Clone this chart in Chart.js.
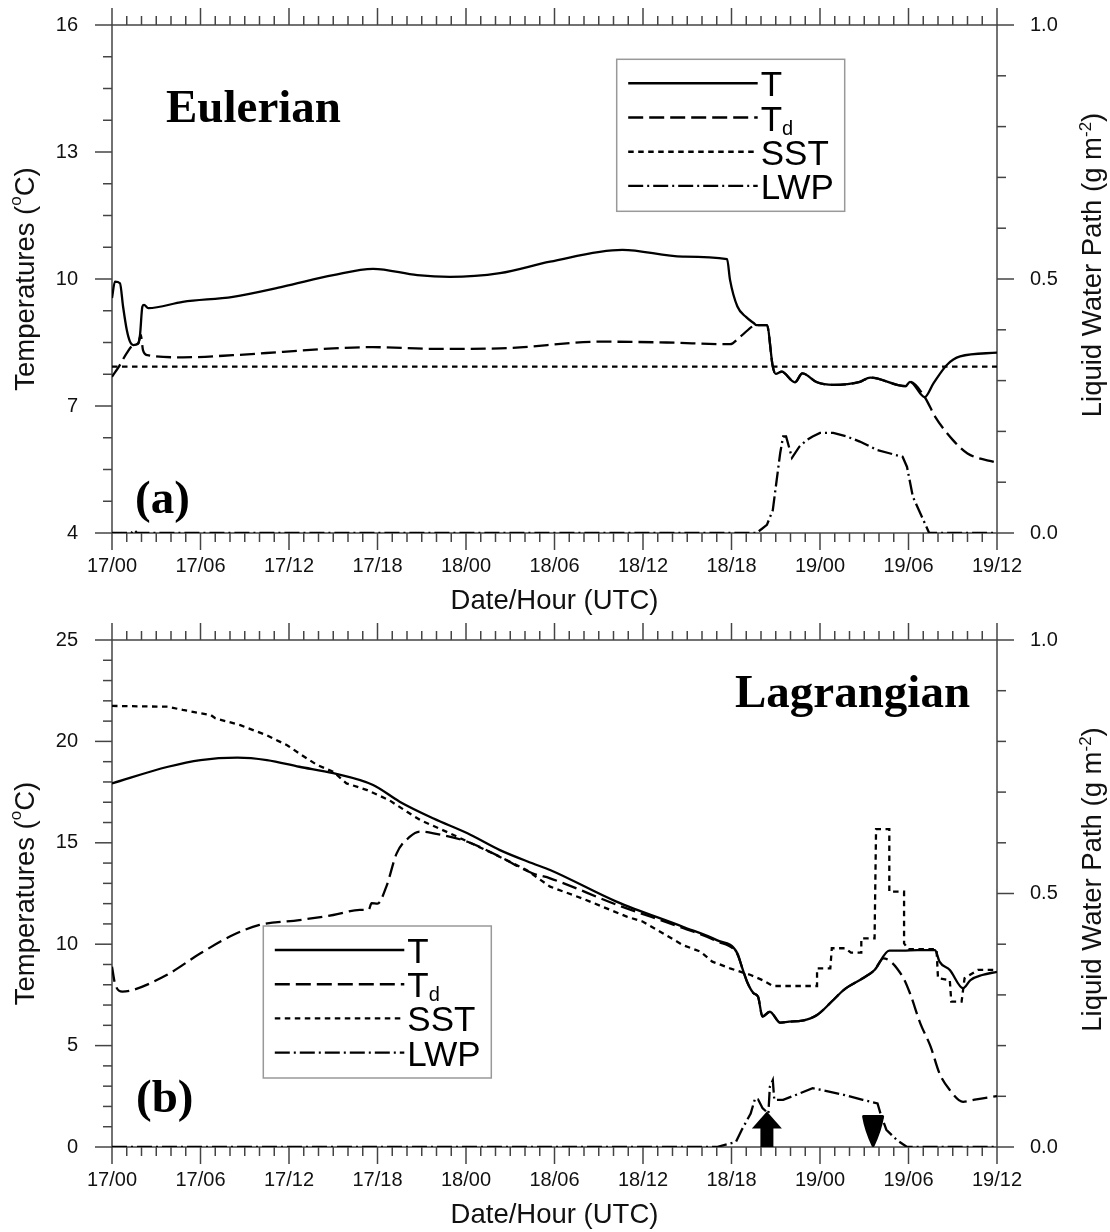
<!DOCTYPE html>
<html>
<head>
<meta charset="utf-8">
<title>Eulerian / Lagrangian time series</title>
<script src="https://cdn.jsdelivr.net/npm/chart.js@4.4.1/dist/chart.umd.min.js"></script>
<style>
  html, body { margin: 0; padding: 0; background: #fff; }
  #wrap { width: 1110px; height: 1232px; }
  canvas { display: block; }
</style>
</head>
<body>
<div id="wrap">
  <canvas id="chartA" width="1110" height="616"></canvas>
  <canvas id="chartB" width="1110" height="616"></canvas>
</div>
<script>
const dateLabels = ["17/00","17/06","17/12","17/18","18/00","18/06","18/12","18/18","19/00","19/06","19/12"];

// (a) Eulerian - hours since 17/00 UTC
const hoursTA = [0, 0.2, 0.54, 0.75, 1.0, 1.22, 1.44, 1.78, 1.9, 2.06, 2.17, 2.46, 4.8, 8.2, 11.6, 15.0, 17.7, 20.7, 22.9, 26.3, 29.7, 34.6, 38.7, 41.7, 41.9, 42.4, 43.0, 43.5, 43.7, 44.4, 44.8, 45.0, 45.4, 46.3, 46.8, 47.8, 48.9, 50.7, 51.4, 53.8, 54.1, 55.1, 55.7, 56.6, 57.5, 60];
const tempA   = [9.55, 9.94, 9.9, 9.35, 8.8, 8.52, 8.44, 8.48, 8.68, 9.35, 9.39, 9.31, 9.46, 9.58, 9.82, 10.09, 10.24, 10.09, 10.05, 10.14, 10.41, 10.69, 10.53, 10.47, 9.98, 9.35, 9.1, 8.96, 8.91, 8.91, 7.93, 7.76, 7.81, 7.56, 7.77, 7.56, 7.5, 7.57, 7.67, 7.47, 7.57, 7.21, 7.54, 7.97, 8.17, 8.26];
const hoursTdA = [0, 0.5, 1.0, 1.44, 1.78, 1.95, 2.1, 2.4, 4.8, 8.2, 11.6, 15.0, 17.7, 21.8, 26.3, 33.1, 37.6, 41.9, 42.6, 43.7, 44.4, 44.8, 45.0, 45.4, 46.3, 46.8, 47.8, 48.9, 50.7, 51.4, 53.8, 54.1, 55.1, 55.8, 57.0, 58.0, 60];
const dewA     = [7.69, 7.95, 8.25, 8.44, 8.48, 8.68, 8.32, 8.2, 8.15, 8.2, 8.28, 8.36, 8.39, 8.35, 8.36, 8.52, 8.5, 8.46, 8.64, 8.91, 8.91, 7.93, 7.76, 7.81, 7.56, 7.77, 7.56, 7.5, 7.57, 7.67, 7.47, 7.57, 7.21, 6.75, 6.2, 5.88, 5.66];
const hoursSstA = [0, 60];
const sstA      = [7.93, 7.93];
const hoursLwpA = [0, 1.3, 1.5, 1.7, 43.7, 44.4, 44.8, 45.0, 45.3, 45.5, 45.7, 46.1, 46.6, 47.1, 47.5, 48.0, 48.9, 49.8, 50.7, 51.9, 52.7, 53.6, 53.9, 54.3, 55.0, 55.4, 60];
const lwpA      = [0, 0, 0.006, 0, 0, 0.016, 0.045, 0.09, 0.157, 0.19, 0.19, 0.148, 0.17, 0.183, 0.19, 0.197, 0.197, 0.19, 0.18, 0.163, 0.157, 0.15, 0.13, 0.071, 0.026, 0, 0];

// (b) Lagrangian
const hoursTB = [0, 3.8, 6.0, 8.5, 10.5, 12.7, 15.0, 17.7, 19.5, 21.8, 24.1, 26.3, 28.5, 29.7, 34.2, 38.7, 41.0, 42.4, 42.7, 43.1, 43.5, 43.8, 44.1, 44.6, 45.3, 45.9, 46.8, 47.8, 48.9, 49.6, 50.9, 51.7, 52.7, 53.6, 54.6, 55.8, 56.1, 56.8, 57.7, 58.2, 59.0, 60];
const tempB   = [17.93, 18.75, 19.08, 19.2, 19.08, 18.75, 18.43, 17.85, 17.03, 16.2, 15.47, 14.64, 13.99, 13.66, 12.1, 10.86, 10.2, 9.55, 8.89, 8.07, 7.58, 7.41, 6.43, 6.67, 6.13, 6.18, 6.23, 6.51, 7.25, 7.74, 8.32, 8.73, 9.68, 9.68, 9.71, 9.71, 9.14, 8.73, 7.83, 8.23, 8.48, 8.64];
const hoursTdB = [0, 0.2, 0.7, 1.4, 3.7, 6.0, 8.2, 10.0, 12.7, 15.0, 16.8, 17.4, 17.6, 18.0, 18.6, 19.3, 20.2, 20.9, 21.8, 24.1, 26.3, 28.5, 29.7, 34.2, 38.7, 41.0, 42.4, 42.7, 43.1, 43.5, 43.8, 44.1, 44.6, 45.3, 45.9, 46.8, 47.8, 48.9, 49.6, 50.9, 51.7, 52.3, 53.6, 54.1, 54.8, 55.5, 56.1, 56.8, 57.7, 58.6, 60];
const dewB     = [8.89, 8.07, 7.66, 7.74, 8.48, 9.55, 10.45, 10.95, 11.19, 11.44, 11.69, 11.7, 12.02, 12.0, 12.84, 14.48, 15.3, 15.55, 15.47, 15.05, 14.31, 13.5, 13.25, 11.95, 10.8, 10.15, 9.5, 8.89, 8.07, 7.58, 7.41, 6.43, 6.67, 6.13, 6.18, 6.23, 6.51, 7.25, 7.74, 8.32, 8.73, 9.3, 8.4, 7.58, 6.1, 4.95, 3.63, 2.81, 2.23, 2.35, 2.51];
const hoursSstB = [0, 3.8, 4.8, 6.7, 7.0, 8.7, 10.5, 11.9, 12.7, 13.9, 15.0, 15.9, 17.3, 18.8, 20.0, 20.9, 22.9, 25.8, 28.1, 29.7, 31.9, 34.9, 36.0, 38.7, 39.9, 40.7, 41.9, 43.3, 44.1, 44.8, 47.8, 47.8, 48.7, 48.8, 49.7, 50.1, 50.8, 50.8, 51.7, 51.8, 52.7, 52.7, 53.7, 53.7, 54.0, 55.9, 56.0, 56.8, 56.9, 57.6, 57.8, 58.7, 60];
const sstB      = [21.75, 21.71, 21.55, 21.3, 21.14, 20.8, 20.3, 19.8, 19.4, 18.84, 18.5, 17.93, 17.6, 17.1, 16.53, 16.12, 15.47, 14.48, 13.66, 12.84, 12.25, 11.36, 11.11, 9.96, 9.63, 9.14, 8.81, 8.48, 8.23, 7.94, 7.94, 8.81, 8.81, 9.8, 9.8, 9.58, 9.58, 10.29, 10.29, 15.67, 15.67, 12.59, 12.59, 10.04, 9.75, 9.75, 8.32, 8.23, 7.17, 7.17, 8.32, 8.73, 8.73];
const hoursLwpB = [0, 41.0, 42.3, 42.7, 43.3, 43.6, 43.8, 44.1, 44.5, 44.6, 44.8, 44.9, 45.5, 46.4, 47.5, 48.2, 49.6, 50.9, 51.9, 52.1, 52.5, 53.2, 53.9, 60];
const lwpB      = [0, 0, 0.01, 0.034, 0.066, 0.096, 0.094, 0.077, 0.066, 0.119, 0.132, 0.093, 0.093, 0.103, 0.116, 0.112, 0.103, 0.093, 0.086, 0.066, 0.034, 0.014, 0, 0];

// arrows in panel (b): cloud onset / dissipation (hour, LWP of the arrow top)
const arrowHoursB = [44.4, 51.6];
const arrowTopsB  = [0.07, 0.063];

const SANS = "'Liberation Sans', Arial, Helvetica, sans-serif";
const SERIF = "'Liberation Serif', 'Times New Roman', serif";
Chart.defaults.font.family = SANS;
Chart.defaults.color = '#111';

const dashes = { T: [], Td: [15, 6], SST: [5.5, 4.5], LWP: [15, 4, 2, 4] };

function series(label, hours, vals, axis, smooth){
  return {
    label: label,
    data: hours.map((h, i) => ({x: h, y: vals[i]})),
    yAxisID: axis,
    borderColor: '#000',
    borderWidth: 2.3,
    borderDash: dashes[label],
    pointRadius: 0,
    fill: false,
    tension: 0,
    cubicInterpolationMode: smooth ? 'monotone' : 'default'
  };
}

function line(ctx, x1, y1, x2, y2){
  ctx.beginPath(); ctx.moveTo(x1, y1); ctx.lineTo(x2, y2); ctx.stroke();
}

// text with superscript / subscript pieces: [text, size, rise]
function drawRich(ctx, parts, x, y, rot, center){
  ctx.save();
  ctx.translate(x, y);
  ctx.rotate(rot);
  ctx.textAlign = 'left';
  ctx.textBaseline = 'alphabetic';
  let total = 0;
  parts.forEach(p => { ctx.font = p[1] + 'px ' + SANS; total += ctx.measureText(p[0]).width; });
  let cx = center ? -total / 2 : 0;
  parts.forEach(p => {
    ctx.font = p[1] + 'px ' + SANS;
    ctx.fillText(p[0], cx, -p[2]);
    cx += ctx.measureText(p[0]).width;
  });
  ctx.restore();
}

// y axes: fixed width, and no extra label padding pushed into the layout
function fixWidth(w){
  return s => { s.width = w; s.paddingTop = 0; s.paddingBottom = 0; };
}

const framePlugin = {
  id: 'frame',
  beforeDatasetsDraw(chart, args, o){
    const {ctx, chartArea: a, scales} = chart;
    ctx.save();
    ctx.strokeStyle = '#444';
    ctx.lineWidth = 1.5;
    ctx.strokeRect(a.left, a.top, a.right - a.left, a.bottom - a.top);
    // hourly ticks top and bottom
    for(let h = 0; h <= 60; h++){
      const px = scales.x.getPixelForValue(h);
      const len = h % 6 === 0 ? 17 : 9;
      line(ctx, px, a.bottom, px, a.bottom + len);
      line(ctx, px, a.top, px, a.top - len);
    }
    // temperature ticks
    for(let i = 0; i <= o.leftCount; i++){
      const py = scales.y.getPixelForValue(o.leftMin + i * o.leftStep);
      const len = i % o.leftEvery === 0 ? 17 : 9;
      line(ctx, a.left, py, a.left - len, py);
    }
    // LWP ticks
    for(let i = 0; i <= 10; i++){
      const py = scales.y2.getPixelForValue(i / 10);
      const len = i % 5 === 0 ? 17 : 9;
      line(ctx, a.right, py, a.right + len, py);
    }
    ctx.restore();
  },
  afterDraw(chart, args, o){
    const {ctx, chartArea: a, scales} = chart;
    const midY = (a.top + a.bottom) / 2;
    ctx.save();
    ctx.fillStyle = '#111';
    drawRich(ctx, [['Temperatures (', 27.5, 0], ['o', 17, 13], ['C)', 27.5, 0]], 33.5, midY, -Math.PI / 2, true);
    drawRich(ctx, [['Liquid Water Path (g m', 27.5, 0], ['-2', 17, 10], [')', 27.5, 0]], 1101, midY - 14, -Math.PI / 2, true);
    drawRich(ctx, [['Date/Hour (UTC)', 27.5, 0]], (a.left + a.right) / 2, a.bottom + 76, 0, true);

    // panel annotations
    ctx.fillStyle = '#000';
    ctx.font = 'bold 47px ' + SERIF;
    ctx.textAlign = 'left';
    ctx.textBaseline = 'alphabetic';
    o.texts.forEach(t => ctx.fillText(t[0], t[1], t[2]));

    // legend box
    const lx = a.left + o.legend[0], ly = a.top + o.legend[1];
    ctx.strokeStyle = '#999';
    ctx.lineWidth = 1.5;
    ctx.strokeRect(lx, ly, 228, 152);
    const names = ['T', 'Td', 'SST', 'LWP'];
    names.forEach((n, i) => {
      const ry = ly + 24 + i * 34.2;
      ctx.strokeStyle = '#000';
      ctx.lineWidth = 2.4;
      ctx.setLineDash(dashes[n]);
      line(ctx, lx + 11.5, ry, lx + 141, ry);
      ctx.setLineDash([]);
      ctx.fillStyle = '#000';
      if(n === 'Td'){
        drawRich(ctx, [['T', 35, 0], ['d', 20, -4]], lx + 144, ry + 13, 0, false);
      } else {
        drawRich(ctx, [[n, 35, 0]], lx + 144, ry + 13, 0, false);
      }
    });

    // arrows
    if(o.arrows){
      const base = scales.y2.getPixelForValue(0);
      const up = scales.x.getPixelForValue(arrowHoursB[0]);
      const tip = scales.y2.getPixelForValue(arrowTopsB[0]);
      ctx.fillStyle = '#000';
      ctx.beginPath();
      ctx.moveTo(up, tip);
      ctx.lineTo(up + 15, tip + 17);
      ctx.lineTo(up - 15, tip + 17);
      ctx.closePath();
      ctx.fill();
      ctx.fillRect(up - 6.5, tip + 16, 13, base - tip - 16);

      const dn = scales.x.getPixelForValue(arrowHoursB[1]);
      const top = scales.y2.getPixelForValue(arrowTopsB[1]);
      ctx.lineJoin = 'round';
      ctx.lineWidth = 3;
      ctx.strokeStyle = '#000';
      ctx.beginPath();
      ctx.moveTo(dn - 9.5, top + 1.5);
      ctx.lineTo(dn + 9.5, top + 1.5);
      ctx.quadraticCurveTo(dn + 7, (top + base) / 2, dn, base - 1.5);
      ctx.quadraticCurveTo(dn - 7, (top + base) / 2, dn - 9.5, top + 1.5);
      ctx.closePath();
      ctx.fill();
      ctx.stroke();
    }
    ctx.restore();
  }
};

function buildPanel(id, p){
  const ctx = document.getElementById(id).getContext('2d');
  return new Chart(ctx, {
    type: 'line',
    data: {
      datasets: [
        series('T', p.hoursT, p.temp, 'y', true),
        series('Td', p.hoursTd, p.dew, 'y', true),
        series('SST', p.hoursSst, p.sst, 'y', false),
        series('LWP', p.hoursLwp, p.lwp, 'y2', false)
      ]
    },
    plugins: [framePlugin],
    options: {
      responsive: false,
      animation: false,
      layout: { padding: { top: p.top, left: 0, right: 0, bottom: 0 } },
      plugins: {
        legend: { display: false },
        tooltip: { enabled: false },
        frame: p.frame
      },
      scales: {
        x: {
          type: 'linear', position: 'bottom', min: 0, max: 60,
          grid: { display: false, drawTicks: false },
          border: { display: false },
          ticks: { stepSize: 6, autoSkip: false, maxRotation: 0, padding: 21,
                   font: { size: 20 }, callback: v => dateLabels[Math.round(v / 6)] },
          afterFit: s => { s.height = p.bottomH; }
        },
        y: {
          type: 'linear', position: 'left', min: p.yMin, max: p.yMax,
          grid: { display: false, drawTicks: false },
          border: { display: false },
          ticks: { stepSize: p.yStep, padding: 34, font: { size: 20 } },
          afterFit: fixWidth(112)
        },
        y2: {
          type: 'linear', position: 'right', min: 0, max: 1,
          grid: { display: false, drawTicks: false },
          border: { display: false },
          ticks: { stepSize: 0.5, padding: 33, font: { size: 20 }, callback: v => v.toFixed(1) },
          afterFit: fixWidth(113)
        }
      }
    }
  });
}

buildPanel('chartA', {
  hoursT: hoursTA, temp: tempA, hoursTd: hoursTdA, dew: dewA,
  hoursSst: hoursSstA, sst: sstA, hoursLwp: hoursLwpA, lwp: lwpA,
  yMin: 4, yMax: 16, yStep: 3, top: 25, bottomH: 83,
  frame: { leftMin: 4, leftStep: 0.75, leftCount: 16, leftEvery: 4,
           legend: [504.7, 34.3], arrows: false,
           texts: [['Eulerian', 166, 121.7], ['(a)', 135, 513]] }
});

buildPanel('chartB', {
  hoursT: hoursTB, temp: tempB, hoursTd: hoursTdB, dew: dewB,
  hoursSst: hoursSstB, sst: sstB, hoursLwp: hoursLwpB, lwp: lwpB,
  yMin: 0, yMax: 25, yStep: 5, top: 24, bottomH: 85,
  frame: { leftMin: 0, leftStep: 1, leftCount: 25, leftEvery: 5,
           legend: [151.3, 286], arrows: true,
           texts: [['Lagrangian', 735, 91.3], ['(b)', 136, 495.7]] }
});
</script>
</body>
</html>
